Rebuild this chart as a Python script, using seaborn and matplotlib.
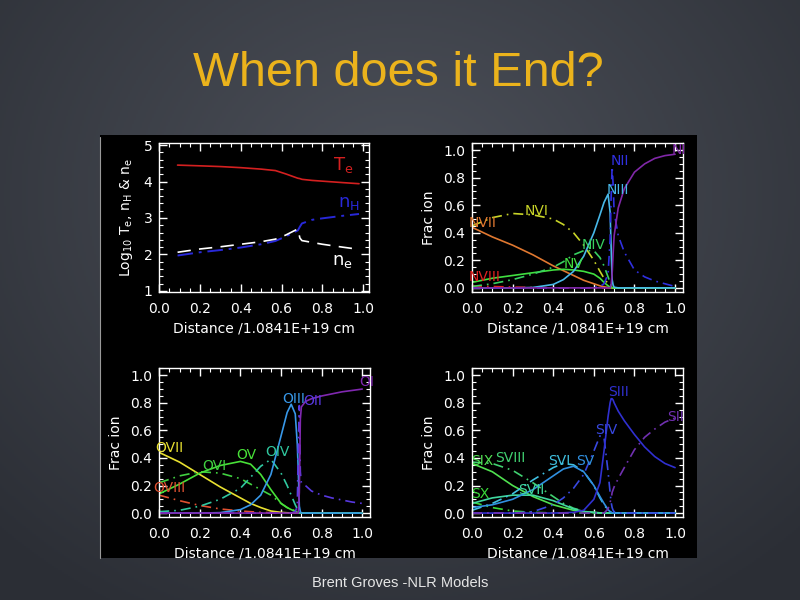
import matplotlib.pyplot as plt
import numpy as np
import seaborn as sns
from matplotlib.patches import Rectangle
from matplotlib.ticker import FormatStrFormatter, MultipleLocator

sns.set_theme(style="ticks")
plt.rcParams["font.family"] = ["DejaVu Sans"]

# ---------------- data ----------------
# top-left panel: log10 Te, nH, ne against distance
dist = [0.09, 0.2, 0.3, 0.4, 0.5, 0.57, 0.62, 0.68, 0.69, 0.7, 0.75, 0.8, 0.9, 0.98]
log_te = [4.45, 4.43, 4.41, 4.38, 4.34, 4.30, 4.21, 4.09, 4.08, 4.06, 4.03, 4.01, 3.97, 3.94]
log_nh = [1.97, 2.06, 2.12, 2.19, 2.28, 2.37, 2.49, 2.66, 2.76, 2.85, 2.95, 2.99, 3.06, 3.11]
log_ne = [2.06, 2.15, 2.21, 2.28, 2.35, 2.42, 2.53, 2.70, 2.45, 2.38, 2.33, 2.28, 2.20, 2.14]

# ionisation fractions, all on one distance grid
frac_x = [0.0, 0.1, 0.2, 0.3, 0.4, 0.45, 0.5, 0.55, 0.6, 0.63, 0.65, 0.67,
          0.68, 0.685, 0.69, 0.695, 0.70, 0.72, 0.75, 0.8, 0.85, 0.9, 0.95, 1.0]

n_viii = [0.015, 0.01, 0.006, 0.003, 0.001, 0, 0, 0, 0, 0, 0, 0, 0, 0, 0, 0, 0, 0, 0, 0, 0, 0, 0, 0]
n_vii = [0.44, 0.37, 0.31, 0.24, 0.16, 0.125, 0.09, 0.055, 0.03, 0.015, 0.008, 0.003,
         0.001, 0, 0, 0, 0, 0, 0, 0, 0, 0, 0, 0]
n_vi = [0.45, 0.51, 0.54, 0.53, 0.50, 0.46, 0.40, 0.31, 0.20, 0.12, 0.07, 0.03,
        0.015, 0.008, 0.003, 0, 0, 0, 0, 0, 0, 0, 0, 0]
n_v = [0.04, 0.07, 0.09, 0.11, 0.13, 0.135, 0.13, 0.12, 0.10, 0.07, 0.04, 0.015,
       0.006, 0.003, 0.001, 0, 0, 0, 0, 0, 0, 0, 0, 0]
n_iv = [0.01, 0.03, 0.06, 0.10, 0.15, 0.19, 0.24, 0.27, 0.27, 0.22, 0.16, 0.08,
        0.04, 0.02, 0.005, 0, 0, 0, 0, 0, 0, 0, 0, 0]
n_iii = [0, 0, 0, 0.003, 0.025, 0.06, 0.12, 0.23, 0.40, 0.53, 0.62, 0.68,
         0.55, 0.30, 0.06, 0.02, 0.005, 0, 0, 0, 0, 0, 0, 0]
n_ii = [0, 0, 0, 0, 0, 0, 0, 0, 0.002, 0.01, 0.03, 0.10,
        0.35, 0.65, 0.88, 0.75, 0.55, 0.38, 0.26, 0.13, 0.08, 0.05, 0.03, 0.01]
n_i = [0, 0, 0, 0, 0, 0, 0, 0, 0, 0, 0, 0,
       0, 0.02, 0.10, 0.25, 0.38, 0.58, 0.72, 0.84, 0.90, 0.94, 0.96, 0.97]

o_viii = [0.13, 0.09, 0.055, 0.03, 0.015, 0.01, 0.005, 0.003, 0.001, 0, 0, 0,
          0, 0, 0, 0, 0, 0, 0, 0, 0, 0, 0, 0]
o_vii = [0.44, 0.37, 0.28, 0.19, 0.11, 0.07, 0.04, 0.015, 0.005, 0.002, 0.001, 0,
         0, 0, 0, 0, 0, 0, 0, 0, 0, 0, 0, 0]
o_vi = [0.22, 0.27, 0.30, 0.29, 0.25, 0.21, 0.17, 0.13, 0.07, 0.04, 0.03, 0.015,
        0.008, 0.004, 0.002, 0, 0, 0, 0, 0, 0, 0, 0, 0]
o_v = [0.14, 0.21, 0.29, 0.345, 0.375, 0.355, 0.28, 0.17, 0.07, 0.04, 0.025, 0.012,
       0.006, 0.003, 0.001, 0, 0, 0, 0, 0, 0, 0, 0, 0]
o_iv = [0.01, 0.02, 0.05, 0.10, 0.18, 0.26, 0.34, 0.39, 0.29, 0.20, 0.13, 0.06,
        0.03, 0.015, 0.005, 0, 0, 0, 0, 0, 0, 0, 0, 0]
o_iii = [0, 0, 0, 0.003, 0.025, 0.06, 0.13, 0.28, 0.56, 0.73, 0.79, 0.72,
         0.50, 0.30, 0.05, 0.01, 0, 0, 0, 0, 0, 0, 0, 0]
o_ii = [0, 0, 0, 0, 0, 0, 0, 0, 0, 0, 0, 0.01,
        0.05, 0.50, 0.78, 0.30, 0.22, 0.20, 0.16, 0.13, 0.11, 0.095, 0.08, 0.07]
o_i = [0, 0, 0, 0, 0, 0, 0, 0, 0, 0, 0, 0,
       0, 0, 0.15, 0.68, 0.77, 0.81, 0.83, 0.85, 0.865, 0.88, 0.89, 0.90]

s_x = [0.08, 0.04, 0.015, 0.005, 0.001, 0, 0, 0, 0, 0, 0, 0,
       0, 0, 0, 0, 0, 0, 0, 0, 0, 0, 0, 0]
s_ix = [0.36, 0.30, 0.20, 0.12, 0.06, 0.04, 0.02, 0.01, 0.003, 0, 0, 0,
        0, 0, 0, 0, 0, 0, 0, 0, 0, 0, 0, 0]
s_viii = [0.37, 0.36, 0.31, 0.22, 0.12, 0.07, 0.035, 0.015, 0.005, 0.002, 0, 0,
          0, 0, 0, 0, 0, 0, 0, 0, 0, 0, 0, 0]
s_vii = [0.07, 0.11, 0.13, 0.13, 0.09, 0.06, 0.03, 0.012, 0.004, 0.001, 0, 0,
         0, 0, 0, 0, 0, 0, 0, 0, 0, 0, 0, 0]
s_vi = [0.02, 0.07, 0.14, 0.24, 0.33, 0.36, 0.35, 0.30, 0.20, 0.11, 0.06, 0.02,
        0.01, 0.005, 0.002, 0, 0, 0, 0, 0, 0, 0, 0, 0]
s_v = [0.04, 0.06, 0.10, 0.17, 0.27, 0.32, 0.34, 0.30, 0.20, 0.12, 0.07, 0.025,
       0.01, 0.005, 0.002, 0, 0, 0, 0, 0, 0, 0, 0, 0]
s_iv = [0, 0, 0, 0.01, 0.06, 0.11, 0.18, 0.28, 0.45, 0.56, 0.55, 0.30,
        0.15, 0.08, 0.04, 0.02, 0.01, 0, 0, 0, 0, 0, 0, 0]
s_iii = [0, 0, 0, 0, 0, 0.002, 0.005, 0.02, 0.10, 0.22, 0.45, 0.70,
         0.80, 0.83, 0.83, 0.82, 0.80, 0.74, 0.67, 0.57, 0.48, 0.41, 0.36, 0.33]
s_ii = [0, 0, 0, 0, 0, 0, 0, 0, 0, 0, 0, 0.03,
        0.08, 0.10, 0.15, 0.17, 0.19, 0.25, 0.33, 0.46, 0.55, 0.61, 0.66, 0.69]

x_title = "Distance /1.0841E+19 cm"

# ---------------- styles ----------------
DASHDOT = (0, (6, 3, 1, 3))
SOLID = "-"

nitrogen = [
    ("NVIII", n_viii, "#e02020", DASHDOT, (0.06, 0.08)),
    ("NVII", n_vii, "#e07830", SOLID, (0.05, 0.47)),
    ("NVI", n_vi, "#c8d428", DASHDOT, (0.32, 0.56)),
    ("NV", n_v, "#40e040", SOLID, (0.5, 0.17)),
    ("NIV", n_iv, "#38d060", DASHDOT, (0.6, 0.31)),
    ("NIII", n_iii, "#48b8e8", SOLID, (0.72, 0.71)),
    ("NII", n_ii, "#3030e0", DASHDOT, (0.73, 0.92)),
    ("NI", n_i, "#8028a8", SOLID, (1.02, 1.0)),
]
oxygen = [
    ("OVIII", o_viii, "#e05030", DASHDOT, (0.05, 0.18)),
    ("OVII", o_vii, "#e8e030", SOLID, (0.05, 0.47)),
    ("OVI", o_vi, "#40d040", DASHDOT, (0.27, 0.34)),
    ("OV", o_v, "#48e038", SOLID, (0.43, 0.42)),
    ("OIV", o_iv, "#30c8a0", DASHDOT, (0.58, 0.44)),
    ("OIII", o_iii, "#3898e8", SOLID, (0.66, 0.83)),
    ("OII", o_ii, "#5838e0", DASHDOT, (0.755, 0.81)),
    ("OI", o_i, "#8028b0", SOLID, (1.02, 0.95)),
]
sulfur = [
    ("SX", s_x, "#38d838", DASHDOT, (0.04, 0.14)),
    ("SIX", s_ix, "#50e050", SOLID, (0.05, 0.38)),
    ("SVIII", s_viii, "#40d070", DASHDOT, (0.19, 0.40)),
    ("SVII", s_vii, "#40d8a0", SOLID, (0.29, 0.17)),
    ("SVI", s_vi, "#40c0e0", DASHDOT, (0.43, 0.38)),
    ("SV", s_v, "#3090e0", SOLID, (0.56, 0.38)),
    ("SIV", s_iv, "#3848e0", DASHDOT, (0.66, 0.6)),
    ("SIII", s_iii, "#3030d0", SOLID, (0.72, 0.88)),
    ("SII", s_ii, "#7030b0", DASHDOT, (1.0, 0.7)),
]


def style_axes(ax, ylim, ymajor, yminor, yfmt):
    ax.set_facecolor("black")
    for spine in ax.spines.values():
        spine.set_color("white")
        spine.set_linewidth(1.0)
    ax.xaxis.set_major_locator(MultipleLocator(0.2))
    ax.xaxis.set_minor_locator(MultipleLocator(0.05))
    ax.yaxis.set_major_locator(MultipleLocator(ymajor))
    ax.yaxis.set_minor_locator(MultipleLocator(yminor))
    ax.xaxis.set_major_formatter(FormatStrFormatter("%.1f"))
    ax.yaxis.set_major_formatter(FormatStrFormatter(yfmt))
    ax.tick_params(which="both", direction="in", top=True, right=True,
                   colors="white", labelcolor="white", labelsize=10)
    ax.tick_params(which="major", length=6, width=1)
    ax.tick_params(which="minor", length=3, width=0.8)
    ax.tick_params(axis="x", pad=7)
    ax.tick_params(axis="y", pad=5)
    ax.set_ylim(*ylim)
    ax.set_xlabel(x_title, color="white", fontsize=10, labelpad=4)


def ion_panel(ax, ions):
    for name, vals, color, ls, (tx, ty) in ions:
        sns.lineplot(x=frac_x, y=vals, ax=ax, color=color, linestyle=ls,
                     linewidth=1.2, estimator=None, sort=False)
        ax.text(tx, ty, name, color=color, fontsize=10, ha="center", va="center",
                clip_on=False)
    ax.set_xlim(0, 1.04)
    style_axes(ax, (-0.03, 1.05), 0.2, 0.05, "%.1f")
    ax.set_ylabel("Frac ion", color="white", fontsize=10, labelpad=5)


fig = plt.figure(figsize=(8, 6), dpi=100)

# slide background: soft radial slate gradient
bg = fig.add_axes([0, 0, 1, 1])
gx, gy = np.meshgrid(np.linspace(-1, 1, 400), np.linspace(-1, 1, 300))
r = np.sqrt((gx * 0.9) ** 2 + ((gy + 0.35) * 0.8) ** 2)
shade = np.clip(1 - r / 1.3, 0, 1)
c_edge = np.array([0x2b, 0x2e, 0x35]) / 255
c_mid = np.array([0x4d, 0x51, 0x5a]) / 255
img = c_edge + (c_mid - c_edge) * shade[..., None]
bg.imshow(img, extent=[0, 1, 0, 1], aspect="auto", origin="upper")
bg.set_xlim(0, 1)
bg.set_ylim(0, 1)
bg.axis("off")
bg.add_patch(Rectangle((100 / 800, 1 - 558 / 600), 597 / 800, 423 / 600,
                       facecolor="black", edgecolor="none"))
bg.plot([100 / 800, 100 / 800], [1 - 558 / 600, 1 - 137 / 600], color="#9a9a9a", lw=0.8)

fig.text(0.498, 0.877, "When does it End?", color="#ebb31c", fontsize=35,
         family=["Liberation Sans", "DejaVu Sans"], ha="center", va="center")
fig.text(0.5, 0.028, "Brent Groves -NLR Models", color="#e6e6e6", fontsize=10.5,
         family=["Liberation Sans", "DejaVu Sans"], ha="center", va="center")

ax1 = fig.add_axes([0.199, 0.5133, 0.2625, 0.248])
ax2 = fig.add_axes([0.590, 0.5133, 0.264, 0.248])
ax3 = fig.add_axes([0.199, 0.138, 0.264, 0.248])
ax4 = fig.add_axes([0.590, 0.138, 0.264, 0.248])

# temperature / density panel
sns.lineplot(x=dist, y=log_te, ax=ax1, color="#d42020", linewidth=1.2,
             estimator=None, sort=False)
sns.lineplot(x=dist, y=log_nh, ax=ax1, color="#2828d8", linestyle=(0, (8, 3, 1.5, 3)),
             linewidth=1.4, estimator=None, sort=False)
sns.lineplot(x=dist, y=log_ne, ax=ax1, color="white", linestyle=(0, (8, 5)),
             linewidth=1.2, estimator=None, sort=False)
ax1.text(0.9, 4.45, r"T$_\mathrm{e}$", color="#d42020", fontsize=13, ha="center", va="center")
ax1.text(0.93, 3.4, r"n$_\mathrm{H}$", color="#2828d8", fontsize=13, ha="center", va="center")
ax1.text(0.9, 1.82, r"n$_\mathrm{e}$", color="white", fontsize=13, ha="center", va="center")
ax1.set_xlim(0, 1.03)
style_axes(ax1, (0.97, 5.05), 1, 0.2, "%d")
ax1.set_ylabel(r"Log$_{10}$ T$_\mathrm{e}$, n$_\mathrm{H}$ & n$_\mathrm{e}$",
               color="white", fontsize=10, labelpad=6)

ion_panel(ax2, nitrogen)
ion_panel(ax3, oxygen)
ion_panel(ax4, sulfur)

fig.savefig("out.png", dpi=100)
